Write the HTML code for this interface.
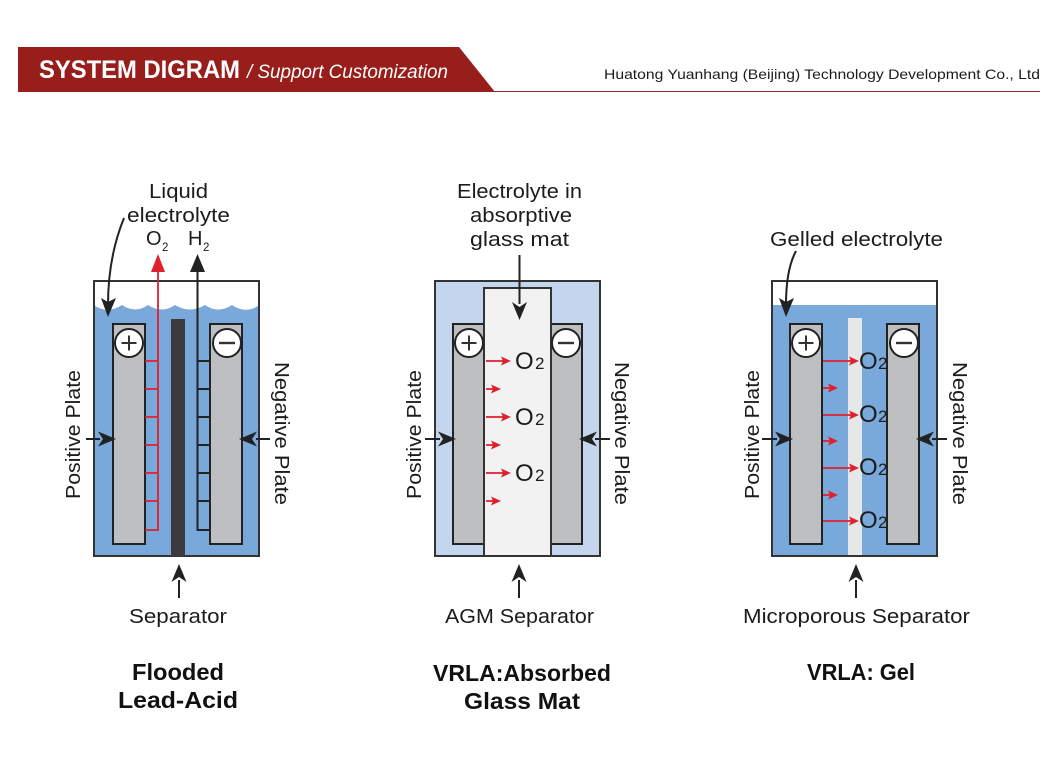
<!DOCTYPE html>
<html><head><meta charset="utf-8"><style>
html,body{margin:0;padding:0;background:#fff;width:1060px;height:777px;overflow:hidden}
svg{display:block}
text{font-family:"Liberation Sans",sans-serif;fill:#1c1c1c}
.l{font-size:20px}
.t{font-size:23px;font-weight:bold;fill:#111}
.b{stroke:#222;stroke-width:2;fill:none}
.p{fill:#bebfc1;stroke:#222;stroke-width:2}
</style></head><body>
<svg width="1060" height="777" viewBox="0 0 1060 777" xmlns="http://www.w3.org/2000/svg">
<defs>
<g id="ah"><path d="M0 0L-18 -7.5L-13 0L-18 7.5Z" fill="#222"/></g>
<g id="rh"><path d="M0 0L-10 -4.5L-8 0L-10 4.5Z" fill="#e01f2d"/></g>
<g id="plus"><circle r="14" fill="#fff" stroke="#222" stroke-width="2"/><path d="M-7.5 0H7.5M0 -7.5V7.5" stroke="#333" stroke-width="2"/></g>
<g id="minus"><circle r="14" fill="#fff" stroke="#222" stroke-width="2"/><path d="M-8 0H8" stroke="#333" stroke-width="2.4"/></g>
</defs>
<!-- header -->
<line x1="490" y1="91.5" x2="1040" y2="91.5" stroke="#8f2a27" stroke-width="1"/>
<polygon points="18,47 459,47 495,92 18,92" fill="#981e1b"/>
<text x="39" y="78" font-size="25" font-weight="bold" style="fill:#fff" textLength="201" lengthAdjust="spacingAndGlyphs">SYSTEM DIGRAM</text>
<text x="247" y="78" font-size="19" font-style="italic" style="fill:#fff" textLength="201" lengthAdjust="spacingAndGlyphs">/ Support Customization</text>
<text x="604" y="79" font-size="14" textLength="436" lengthAdjust="spacingAndGlyphs">Huatong Yuanhang (Beijing) Technology Development Co., Ltd</text>

<!-- Diagram 1 -->
<rect x="94" y="281" width="165" height="275" fill="#fff"/>
<path d="M95 306Q108 314 122 305Q135 314 148 305Q162 314 175 305Q190 314 205 305Q218 314 232 305Q245 314 258 306V556H95Z" fill="#79a8da"/>
<rect x="94" y="281" width="165" height="275" fill="none" stroke="#333" stroke-width="2"/>
<rect x="171" y="319" width="14" height="237" fill="#3b3b3f"/>
<rect x="113" y="324" width="32" height="220" class="p"/>
<rect x="210" y="324" width="32" height="220" class="p"/>
<use href="#plus" x="129" y="343"/><use href="#minus" x="227" y="343"/>
<path d="M158 268V530H145M145 361H158M145 389H158M145 417H158M145 445H158M145 473H158M145 501H158" fill="none" stroke="#e01f2d" stroke-width="1.8"/>
<path d="M158 254L151 272H165Z" fill="#e01f2d"/>
<path d="M197.5 268V530H210M197.5 361H210M197.5 389H210M197.5 417H210M197.5 445H210M197.5 473H210M197.5 501H210" class="b"/>
<path d="M197.5 254L190 272H205Z" fill="#222"/>
<path d="M124 218C113 245 108 275 108 305" class="b"/>
<path d="M108 317L101 298L108 302L116 298Z" fill="#222"/>
<path d="M86 439H100" class="b"/><use href="#ah" x="116" y="439"/>
<path d="M270 439H256" class="b"/><use href="#ah" transform="translate(239 439) rotate(180)"/>
<path d="M179 598V580" class="b"/><use href="#ah" transform="translate(179 564) rotate(-90)"/>
<text class="l" x="149" y="198" textLength="59" lengthAdjust="spacingAndGlyphs">Liquid</text>
<text class="l" x="127" y="222" textLength="103" lengthAdjust="spacingAndGlyphs">electrolyte</text>
<text class="l" x="146" y="245">O</text><text x="162" y="251" font-size="11.5">2</text>
<text class="l" x="188" y="245">H</text><text x="203" y="251" font-size="11.5">2</text>
<text class="l" transform="translate(80 499) rotate(-90)" textLength="129" lengthAdjust="spacingAndGlyphs">Positive Plate</text>
<text class="l" transform="translate(275 362) rotate(90)" textLength="143" lengthAdjust="spacingAndGlyphs">Negative Plate</text>
<text class="l" x="129" y="623" textLength="98" lengthAdjust="spacingAndGlyphs">Separator</text>
<text class="t" x="132" y="680" textLength="92" lengthAdjust="spacingAndGlyphs">Flooded</text>
<text class="t" x="118" y="708" textLength="120" lengthAdjust="spacingAndGlyphs">Lead-Acid</text>

<!-- Diagram 2 -->
<rect x="435" y="281" width="165" height="275" fill="#c3d6ee" stroke="#333" stroke-width="2"/>
<rect x="453" y="324" width="32" height="220" class="p"/>
<rect x="550" y="324" width="32" height="220" class="p"/>
<rect x="484" y="288" width="67" height="268" fill="#f2f2f3" stroke="#333" stroke-width="2"/>
<use href="#plus" x="469" y="343"/><use href="#minus" x="566" y="343"/>
<g stroke="#e01f2d" stroke-width="1.8">
<path d="M486 361H505M486 417H505M486 473H505M486 389H495M486 445H495M486 501H495"/>
</g>
<use href="#rh" x="511" y="361"/><use href="#rh" x="511" y="417"/><use href="#rh" x="511" y="473"/>
<use href="#rh" x="501" y="389"/><use href="#rh" x="501" y="445"/><use href="#rh" x="501" y="501"/>
<text x="515" y="369" font-size="24">O</text><text x="515" y="425" font-size="24">O</text><text x="515" y="481" font-size="24">O</text>
<text x="535" y="369" font-size="17">2</text><text x="535" y="425" font-size="17">2</text><text x="535" y="481" font-size="17">2</text>
<path d="M519.5 255V304" class="b"/><use href="#ah" transform="translate(519.5 320) rotate(90)"/>
<path d="M425 439H440" class="b"/><use href="#ah" x="456" y="439"/>
<path d="M610 439H595" class="b"/><use href="#ah" transform="translate(579 439) rotate(180)"/>
<path d="M519 598V580" class="b"/><use href="#ah" transform="translate(519 564) rotate(-90)"/>
<text class="l" x="457" y="198" textLength="125" lengthAdjust="spacingAndGlyphs">Electrolyte in</text>
<text class="l" x="470" y="222" textLength="102" lengthAdjust="spacingAndGlyphs">absorptive</text>
<text class="l" x="470" y="246" textLength="99" lengthAdjust="spacingAndGlyphs">glass mat</text>
<text class="l" transform="translate(421 499) rotate(-90)" textLength="129" lengthAdjust="spacingAndGlyphs">Positive Plate</text>
<text class="l" transform="translate(615 362) rotate(90)" textLength="143" lengthAdjust="spacingAndGlyphs">Negative Plate</text>
<text class="l" x="445" y="623" textLength="149" lengthAdjust="spacingAndGlyphs">AGM Separator</text>
<text class="t" x="433" y="681" textLength="178" lengthAdjust="spacingAndGlyphs">VRLA:Absorbed</text>
<text class="t" x="464" y="709" textLength="116" lengthAdjust="spacingAndGlyphs">Glass Mat</text>

<!-- Diagram 3 -->
<rect x="772" y="281" width="165" height="275" fill="#fff"/>
<rect x="772" y="305" width="165" height="251" fill="#79a8da"/>
<rect x="772" y="281" width="165" height="275" fill="none" stroke="#333" stroke-width="2"/>
<rect x="848" y="318" width="14" height="237" fill="#e6e7e9"/>
<g stroke="#e01f2d" stroke-width="1.8">
<path d="M823 361H852M823 415H852M823 468H852M823 521H852M823 388H832M823 441H832M823 495H832"/>
</g>
<use href="#rh" x="859" y="361"/><use href="#rh" x="859" y="415"/><use href="#rh" x="859" y="468"/><use href="#rh" x="859" y="521"/>
<use href="#rh" x="838" y="388"/><use href="#rh" x="838" y="441"/><use href="#rh" x="838" y="495"/>
<text x="859" y="369" font-size="24">O</text><text x="859" y="422" font-size="24">O</text><text x="859" y="475" font-size="24">O</text><text x="859" y="528" font-size="24">O</text>
<text x="878" y="369" font-size="17">2</text><text x="878" y="422" font-size="17">2</text><text x="878" y="475" font-size="17">2</text><text x="878" y="528" font-size="17">2</text>
<rect x="790" y="324" width="32" height="220" class="p"/>
<rect x="887" y="324" width="32" height="220" class="p"/>
<use href="#plus" x="806" y="343"/><use href="#minus" x="904" y="343"/>
<path d="M796 251C790 262 786 280 786 305" class="b"/>
<path d="M786 317L779 298L786 302L794 298Z" fill="#222"/>
<path d="M762 439H777" class="b"/><use href="#ah" x="793" y="439"/>
<path d="M947 439H932" class="b"/><use href="#ah" transform="translate(916 439) rotate(180)"/>
<path d="M856 598V580" class="b"/><use href="#ah" transform="translate(856 564) rotate(-90)"/>
<text class="l" x="770" y="246" textLength="173" lengthAdjust="spacingAndGlyphs">Gelled electrolyte</text>
<text class="l" transform="translate(759 499) rotate(-90)" textLength="129" lengthAdjust="spacingAndGlyphs">Positive Plate</text>
<text class="l" transform="translate(953 362) rotate(90)" textLength="143" lengthAdjust="spacingAndGlyphs">Negative Plate</text>
<text class="l" x="743" y="623" textLength="227" lengthAdjust="spacingAndGlyphs">Microporous Separator</text>
<text class="t" x="807" y="680" textLength="108" lengthAdjust="spacingAndGlyphs">VRLA: Gel</text>
</svg>
</body></html>
